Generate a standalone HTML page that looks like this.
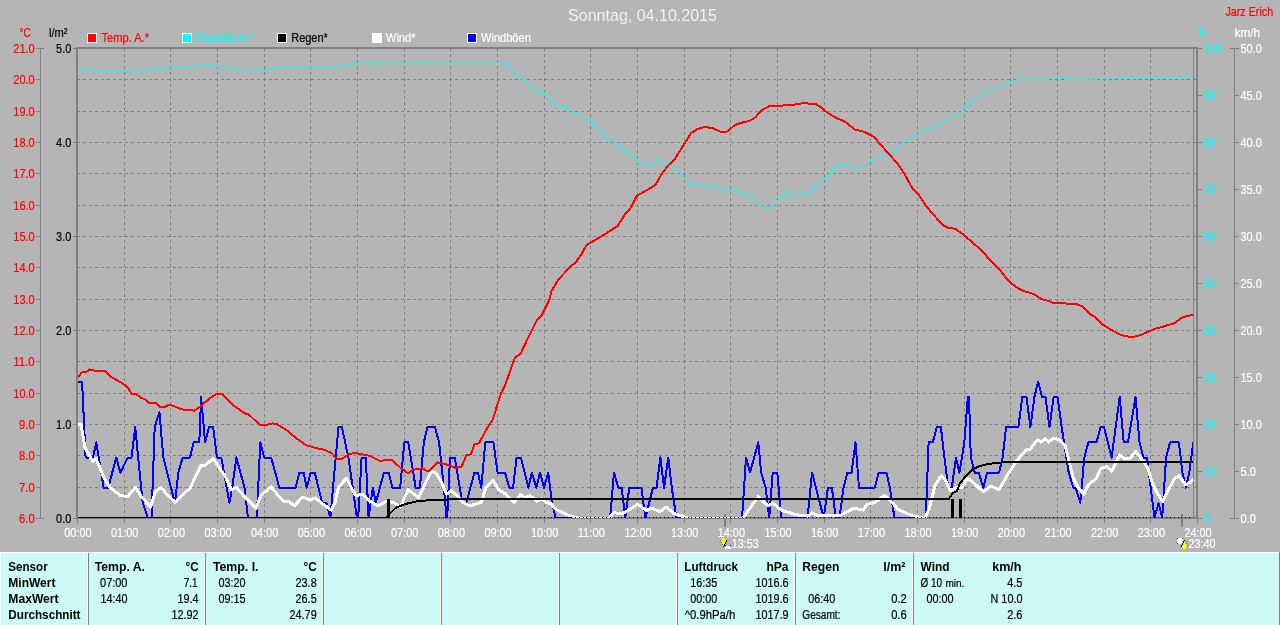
<!DOCTYPE html>
<html><head><meta charset="utf-8"><title>Wetter</title>
<style>html,body{margin:0;padding:0;background:#b5b5b5;overflow:hidden}svg{display:block;will-change:transform;font-family:"Liberation Sans",sans-serif}</style>
</head><body>
<svg width="1280" height="625" viewBox="0 0 1280 625">
<rect x="0" y="0" width="1280" height="625" fill="#b5b5b5"/>
<g shape-rendering="crispEdges" stroke="#808080" stroke-width="1" fill="none">
<line x1="77" y1="79.5" x2="1196" y2="79.5" stroke-dasharray="3 3"/>
<line x1="77" y1="111.5" x2="1196" y2="111.5" stroke-dasharray="3 3"/>
<line x1="77" y1="142.5" x2="1196" y2="142.5" stroke-dasharray="3 3"/>
<line x1="77" y1="173.5" x2="1196" y2="173.5" stroke-dasharray="3 3"/>
<line x1="77" y1="205.5" x2="1196" y2="205.5" stroke-dasharray="3 3"/>
<line x1="77" y1="236.5" x2="1196" y2="236.5" stroke-dasharray="3 3"/>
<line x1="77" y1="267.5" x2="1196" y2="267.5" stroke-dasharray="3 3"/>
<line x1="77" y1="299.5" x2="1196" y2="299.5" stroke-dasharray="3 3"/>
<line x1="77" y1="330.5" x2="1196" y2="330.5" stroke-dasharray="3 3"/>
<line x1="77" y1="361.5" x2="1196" y2="361.5" stroke-dasharray="3 3"/>
<line x1="77" y1="393.5" x2="1196" y2="393.5" stroke-dasharray="3 3"/>
<line x1="77" y1="424.5" x2="1196" y2="424.5" stroke-dasharray="3 3"/>
<line x1="77" y1="455.5" x2="1196" y2="455.5" stroke-dasharray="3 3"/>
<line x1="77" y1="487.5" x2="1196" y2="487.5" stroke-dasharray="3 3"/>
<line x1="124.5" y1="48" x2="124.5" y2="517" stroke-dasharray="3 3"/>
<line x1="124.5" y1="517" x2="124.5" y2="523"/>
<line x1="170.5" y1="48" x2="170.5" y2="517" stroke-dasharray="3 3"/>
<line x1="170.5" y1="517" x2="170.5" y2="523"/>
<line x1="217.5" y1="48" x2="217.5" y2="517" stroke-dasharray="3 3"/>
<line x1="217.5" y1="517" x2="217.5" y2="523"/>
<line x1="264.5" y1="48" x2="264.5" y2="517" stroke-dasharray="3 3"/>
<line x1="264.5" y1="517" x2="264.5" y2="523"/>
<line x1="310.5" y1="48" x2="310.5" y2="517" stroke-dasharray="3 3"/>
<line x1="310.5" y1="517" x2="310.5" y2="523"/>
<line x1="357.5" y1="48" x2="357.5" y2="517" stroke-dasharray="3 3"/>
<line x1="357.5" y1="517" x2="357.5" y2="523"/>
<line x1="404.5" y1="48" x2="404.5" y2="517" stroke-dasharray="3 3"/>
<line x1="404.5" y1="517" x2="404.5" y2="523"/>
<line x1="450.5" y1="48" x2="450.5" y2="517" stroke-dasharray="3 3"/>
<line x1="450.5" y1="517" x2="450.5" y2="523"/>
<line x1="497.5" y1="48" x2="497.5" y2="517" stroke-dasharray="3 3"/>
<line x1="497.5" y1="517" x2="497.5" y2="523"/>
<line x1="544.5" y1="48" x2="544.5" y2="517" stroke-dasharray="3 3"/>
<line x1="544.5" y1="517" x2="544.5" y2="523"/>
<line x1="590.5" y1="48" x2="590.5" y2="517" stroke-dasharray="3 3"/>
<line x1="590.5" y1="517" x2="590.5" y2="523"/>
<line x1="637.5" y1="48" x2="637.5" y2="517" stroke-dasharray="3 3"/>
<line x1="637.5" y1="517" x2="637.5" y2="523"/>
<line x1="684.5" y1="48" x2="684.5" y2="517" stroke-dasharray="3 3"/>
<line x1="684.5" y1="517" x2="684.5" y2="523"/>
<line x1="730.5" y1="48" x2="730.5" y2="517" stroke-dasharray="3 3"/>
<line x1="730.5" y1="517" x2="730.5" y2="523"/>
<line x1="777.5" y1="48" x2="777.5" y2="517" stroke-dasharray="3 3"/>
<line x1="777.5" y1="517" x2="777.5" y2="523"/>
<line x1="824.5" y1="48" x2="824.5" y2="517" stroke-dasharray="3 3"/>
<line x1="824.5" y1="517" x2="824.5" y2="523"/>
<line x1="870.5" y1="48" x2="870.5" y2="517" stroke-dasharray="3 3"/>
<line x1="870.5" y1="517" x2="870.5" y2="523"/>
<line x1="917.5" y1="48" x2="917.5" y2="517" stroke-dasharray="3 3"/>
<line x1="917.5" y1="517" x2="917.5" y2="523"/>
<line x1="964.5" y1="48" x2="964.5" y2="517" stroke-dasharray="3 3"/>
<line x1="964.5" y1="517" x2="964.5" y2="523"/>
<line x1="1010.5" y1="48" x2="1010.5" y2="517" stroke-dasharray="3 3"/>
<line x1="1010.5" y1="517" x2="1010.5" y2="523"/>
<line x1="1057.5" y1="48" x2="1057.5" y2="517" stroke-dasharray="3 3"/>
<line x1="1057.5" y1="517" x2="1057.5" y2="523"/>
<line x1="1104.5" y1="48" x2="1104.5" y2="517" stroke-dasharray="3 3"/>
<line x1="1104.5" y1="517" x2="1104.5" y2="523"/>
<line x1="1150.5" y1="48" x2="1150.5" y2="517" stroke-dasharray="3 3"/>
<line x1="1150.5" y1="517" x2="1150.5" y2="523"/>
</g>
<g shape-rendering="crispEdges">
<rect x="724" y="514" width="2" height="13" fill="#808080"/>
<rect x="1181" y="514" width="2" height="13" fill="#808080"/>
</g>
<rect x="76" y="517" width="1122" height="2" fill="#808080" shape-rendering="crispEdges"/>
<clipPath id="cp"><rect x="78" y="40" width="1118" height="478"/></clipPath>
<g shape-rendering="crispEdges" clip-path="url(#cp)">
<polyline points="76.8,381.8 82.1,381.8 85.6,457.5 93,457.5 96.3,442.4 103.7,487.7 108.3,487.7 116.2,457.5 120.4,472.6 127.8,457.5 131.5,457.5 135.2,427.2 142.7,502.9 147.8,518 151.5,518 154.7,427.2 159.4,412.1 163.3,457.5 174.9,502.9 178.4,472.6 182.6,457.5 190,457.5 193.7,442.4 199.3,442.4 201.1,397 205.1,442.4 209,427.2 213.2,427.2 216.9,457.5 221.3,457.5 229.4,502.9 232.2,487.7 236.4,457.5 244.5,487.7 248,518 256.8,518 260.3,442.4 264.2,457.5 271.2,457.5 279.3,487.7 295.5,487.7 299.5,472.6 303.7,472.6 306.7,487.7 310.6,472.6 314.8,472.6 322.2,502.9 326.4,502.9 330.3,518 338.5,427.2 341.9,427.2 348.4,457.5 357,518 358.2,518 361.6,457.5 365.8,457.5 368.6,518 372.8,487.7 375.8,502.9 383.9,472.6 388.6,472.6 392.5,487.7 400.2,487.7 404.3,442.4 408.3,442.4 415.7,487.7 419.9,487.7 423.8,442.4 427.5,427.2 435,427.2 439.1,442.4 445.4,502.9 446.1,518 447.2,518 450,457.5 454.7,457.5 462.3,502.9 466.3,502.9 474.4,472.6 477.9,472.6 481.3,487.7 485.3,442.4 493.4,442.4 497.6,472.6 505,472.6 509.2,487.7 513.1,487.7 516.6,457.5 520.8,457.5 528.4,487.7 531.9,472.6 536.3,487.7 540,472.6 544,487.7 548.2,472.6 552.1,502.9 555.6,518 610.1,518 614,472.6 618.2,487.7 621.7,487.7 625.2,518 629.3,487.7 641.4,487.7 645.4,518 653,487.7 656.5,487.7 660.4,457.5 664.1,487.7 668.3,457.5 671.8,487.7 676.4,518 742.1,518 746,457.5 750,472.6 758.3,442.4 761.1,472.6 765.7,487.7 769.2,518 772.7,472.6 777.3,472.6 781.3,518 807.5,518 812.1,472.6 823.7,518 827.9,487.7 831.9,487.7 835.8,518 839.5,518 843.5,487.7 847.4,472.6 851.6,472.6 855.5,442.4 859,487.7 874.8,487.7 878.7,472.6 886.4,472.6 889.9,487.7 894.5,518 925.8,518 928.6,442.4 932.8,442.4 936.7,427.2 940.9,427.2 944.4,457.5 948.3,487.7 951.8,487.7 956,457.5 959.4,472.6 962,457.5 964.3,442.4 967.8,397 969,397 970.8,457.5 974.8,472.6 978.7,472.6 983.3,487.7 987.1,472.6 999.1,472.6 1002.6,457.5 1006.1,427.2 1018.4,427.2 1022.3,397 1026.5,397 1030.4,427.2 1034.4,397 1038.1,381.8 1042,397 1045.5,397 1049.5,427.2 1053.6,397 1057.6,397 1061.7,427.2 1068.7,472.6 1073.3,487.7 1075.7,487.7 1080.3,502.9 1084.3,457.5 1088.4,442.4 1096.5,442.4 1100.5,427.2 1104,427.2 1111.6,457.5 1119.7,397 1123.7,442.4 1127.9,442.4 1135.5,397 1139.5,442.4 1143.4,457.5 1146.9,457.5 1154.5,518 1158.5,502.9 1162.2,518 1166.1,457.5 1170.1,442.4 1178.9,442.4 1182.4,472.6 1185.9,487.7 1189.3,472.6 1193.3,442.4" fill="none" stroke="#0000ff" stroke-width="2" stroke-linejoin="round"/>
<polyline points="76.8,424.3 81,424.3 85.1,447.9 93,461.8 96,458.4 104.2,478.1 110,487.3 120.4,495.5 127.8,496.6 135.5,487.3 141.3,496.6 150.6,507.1 155.2,492 161,487.3 166.8,494.3 175.4,502.4 183,494.3 190,488.5 196.9,473.4 201.1,465.3 205.1,465.3 213.2,458.4 217.8,465.3 224.8,475.7 231.7,489.7 236.4,487.3 244.5,496.6 256.1,508.2 260.7,495.5 271.2,486.9 278.1,495.5 283.9,501.3 288.6,501.3 294.4,505.9 302.5,497.1 310.6,500.1 315.3,497.8 322.2,503.6 331.5,510.1 335,502.4 338.5,487.3 346.6,478.1 352.4,489.7 355.8,495.5 362.8,494.3 370,501.3 378.1,505.9 386.2,501.3 393.2,502.4 400.2,507.1 408.3,489.7 418.7,497.8 424.5,485 431.5,471.1 436.1,473.4 441.9,482.7 446.6,494.3 451.2,490.8 457,495.5 462.8,502.4 469.7,505.9 481.3,502.4 486,487.3 492.9,480.4 498.7,489.7 505.7,494.3 513.8,502.4 520.8,494.3 524.3,497.8 530.1,495.5 537,501.3 541.7,498.9 546.3,502.4 550.9,503.6 555.6,509.4 567.2,514.7 578.8,518.5 608.9,518.5 613.6,512.9 622.9,513.3 629.8,509.4 637.9,504.3 646.1,510.5 651.8,508.2 660,511.7 666,507.1 675.3,514 689.2,518.5 742.6,518.5 758.3,496.6 768.1,505.9 772.7,503.1 782,510.5 795.9,514.7 807.5,516.1 812.1,512.9 816.8,515.2 840,515.6 853.9,508.2 863.2,510.1 866.7,504.7 874.8,502.4 884.1,495.5 888.7,498.9 898,509.4 909.6,514.7 924.7,518.5 929.3,508.2 935.1,485 941.6,475.7 945.5,480.4 950.2,490.8 957.1,487.3 962,487.3 967.8,478.1 975.9,485 983.3,492 991,486.2 999.1,489.7 1008.4,473.4 1017.7,459.5 1025.8,450.2 1030.4,449.1 1037.4,439.8 1040.9,442.1 1045,438.6 1048.3,442.1 1053.6,438.2 1059.4,439.8 1065.2,445.6 1068.7,459.5 1073.3,478.1 1078,487.3 1083.8,494.3 1088.4,485 1096.5,478.1 1100.5,468.8 1107,466.5 1111.6,471.1 1119.7,454.9 1124.4,459 1130.2,458.4 1135.5,451.4 1141.8,459 1147.6,467.6 1152.2,482.7 1158,494.3 1162.7,501.3 1168.5,489.7 1174.3,479.2 1178.9,475.7 1182.4,480.4 1185.9,485 1194,479.2" fill="none" stroke="#ffffff" stroke-width="3" stroke-linejoin="round"/>
<polyline points="78,518 386,518 386.2,517.7 389.7,513.8 395.5,508 404.8,504.1 416.4,501.5 428,500.3 446,500 448,499 949,499 952.3,493.5 957.1,490.8 959.9,483.1 966,476 971.7,470 978.7,466.4 985,464.6 992.6,463.4 1001,462.6 1010,462 1015.4,462.1 1194,462.1" fill="none" stroke="#000000" stroke-width="2" stroke-linejoin="round"/>
</g>
<g shape-rendering="crispEdges" clip-path="url(#cp)">
<rect x="387" y="499" width="3" height="19" fill="#000"/>
<rect x="951" y="499" width="3" height="19" fill="#000"/>
<rect x="959" y="499" width="3" height="19" fill="#000"/>
<path d="M392 517h1v1h-1zM396 517h1v1h-1zM400 517h1v1h-1zM404 517h1v1h-1zM408 517h1v1h-1zM411 517h1v1h-1zM415 517h1v1h-1zM419 517h1v1h-1zM423 517h1v1h-1zM427 517h1v1h-1zM431 517h1v1h-1zM435 517h1v1h-1zM439 517h1v1h-1zM443 517h1v1h-1zM446 517h1v1h-1zM450 517h1v1h-1zM454 517h1v1h-1zM458 517h1v1h-1zM462 517h1v1h-1zM466 517h1v1h-1zM470 517h1v1h-1zM474 517h1v1h-1zM478 517h1v1h-1zM481 517h1v1h-1zM485 517h1v1h-1zM489 517h1v1h-1zM493 517h1v1h-1zM497 517h1v1h-1zM501 517h1v1h-1zM505 517h1v1h-1zM509 517h1v1h-1zM513 517h1v1h-1zM516 517h1v1h-1zM520 517h1v1h-1zM524 517h1v1h-1zM528 517h1v1h-1zM532 517h1v1h-1zM536 517h1v1h-1zM540 517h1v1h-1zM544 517h1v1h-1zM548 517h1v1h-1zM551 517h1v1h-1zM555 517h1v1h-1zM559 517h1v1h-1zM563 517h1v1h-1zM567 517h1v1h-1zM571 517h1v1h-1zM575 517h1v1h-1zM579 517h1v1h-1zM583 517h1v1h-1zM586 517h1v1h-1zM590 517h1v1h-1zM594 517h1v1h-1zM598 517h1v1h-1zM602 517h1v1h-1zM606 517h1v1h-1zM610 517h1v1h-1zM614 517h1v1h-1zM618 517h1v1h-1zM621 517h1v1h-1zM625 517h1v1h-1zM629 517h1v1h-1zM633 517h1v1h-1zM637 517h1v1h-1zM641 517h1v1h-1zM645 517h1v1h-1zM649 517h1v1h-1zM653 517h1v1h-1zM656 517h1v1h-1zM660 517h1v1h-1zM664 517h1v1h-1zM668 517h1v1h-1zM672 517h1v1h-1zM676 517h1v1h-1zM680 517h1v1h-1zM684 517h1v1h-1zM688 517h1v1h-1zM691 517h1v1h-1zM695 517h1v1h-1zM699 517h1v1h-1zM703 517h1v1h-1zM707 517h1v1h-1zM711 517h1v1h-1zM715 517h1v1h-1zM719 517h1v1h-1zM723 517h1v1h-1zM726 517h1v1h-1zM730 517h1v1h-1zM734 517h1v1h-1zM738 517h1v1h-1zM742 517h1v1h-1zM746 517h1v1h-1zM750 517h1v1h-1zM754 517h1v1h-1zM758 517h1v1h-1zM761 517h1v1h-1zM765 517h1v1h-1zM769 517h1v1h-1zM773 517h1v1h-1zM777 517h1v1h-1zM781 517h1v1h-1zM785 517h1v1h-1zM789 517h1v1h-1zM793 517h1v1h-1zM796 517h1v1h-1zM800 517h1v1h-1zM804 517h1v1h-1zM808 517h1v1h-1zM812 517h1v1h-1zM816 517h1v1h-1zM820 517h1v1h-1zM824 517h1v1h-1zM828 517h1v1h-1zM831 517h1v1h-1zM835 517h1v1h-1zM839 517h1v1h-1zM843 517h1v1h-1zM847 517h1v1h-1zM851 517h1v1h-1zM855 517h1v1h-1zM859 517h1v1h-1zM863 517h1v1h-1zM866 517h1v1h-1zM870 517h1v1h-1zM874 517h1v1h-1zM878 517h1v1h-1zM882 517h1v1h-1zM886 517h1v1h-1zM890 517h1v1h-1zM894 517h1v1h-1zM898 517h1v1h-1zM901 517h1v1h-1zM905 517h1v1h-1zM909 517h1v1h-1zM913 517h1v1h-1zM917 517h1v1h-1zM921 517h1v1h-1zM925 517h1v1h-1zM929 517h1v1h-1zM933 517h1v1h-1zM936 517h1v1h-1zM940 517h1v1h-1zM944 517h1v1h-1zM948 517h1v1h-1zM952 517h1v1h-1zM956 517h1v1h-1zM960 517h1v1h-1zM964 517h1v1h-1zM968 517h1v1h-1zM971 517h1v1h-1zM975 517h1v1h-1zM979 517h1v1h-1zM983 517h1v1h-1zM987 517h1v1h-1zM991 517h1v1h-1zM995 517h1v1h-1zM999 517h1v1h-1zM1003 517h1v1h-1zM1006 517h1v1h-1zM1010 517h1v1h-1zM1014 517h1v1h-1zM1018 517h1v1h-1zM1022 517h1v1h-1zM1026 517h1v1h-1zM1030 517h1v1h-1zM1034 517h1v1h-1zM1038 517h1v1h-1zM1041 517h1v1h-1zM1045 517h1v1h-1zM1049 517h1v1h-1zM1053 517h1v1h-1zM1057 517h1v1h-1zM1061 517h1v1h-1zM1065 517h1v1h-1zM1069 517h1v1h-1zM1073 517h1v1h-1zM1076 517h1v1h-1zM1080 517h1v1h-1zM1084 517h1v1h-1zM1088 517h1v1h-1zM1092 517h1v1h-1zM1096 517h1v1h-1zM1100 517h1v1h-1zM1104 517h1v1h-1zM1108 517h1v1h-1zM1111 517h1v1h-1zM1115 517h1v1h-1zM1119 517h1v1h-1zM1123 517h1v1h-1zM1127 517h1v1h-1zM1131 517h1v1h-1zM1135 517h1v1h-1zM1139 517h1v1h-1zM1143 517h1v1h-1zM1146 517h1v1h-1zM1150 517h1v1h-1zM1154 517h1v1h-1zM1158 517h1v1h-1zM1162 517h1v1h-1zM1166 517h1v1h-1zM1170 517h1v1h-1zM1174 517h1v1h-1zM1178 517h1v1h-1zM1181 517h1v1h-1zM1185 517h1v1h-1zM1189 517h1v1h-1zM1193 517h1v1h-1z" fill="#000"/>
<polyline points="77.8,72.2 81.8,69.7 88.1,68.8 94.3,71.2 99,71.2 124,71.2 131.8,72.8 134.9,70.6 139.6,71.9 144.3,70.3 149,70.3 155.2,68.8 167.8,68.1 170.9,67.2 194.3,67.2 199,65 203.7,66.2 208.4,65 213.1,66.2 220.9,66.2 230.2,69.7 236.5,68.8 241.2,70.3 252.1,70.6 256.8,69.1 261.5,70 270.9,68.8 280.2,67.5 338.1,67.5 342.8,65.6 349,65 355.2,63.8 367.8,63.4 374,62.5 381.8,64.1 386.5,63.1 399,62.5 403.7,63.8 417.8,63.1 424,62.2 470.9,62.2 474,62.2 502.1,62.2 508.4,65.6 516.2,75.9 525.6,81.2 531.8,88.4 536.5,89.4 540.2,95.6 544.3,92.5 552.1,102.5 559.9,106.2 564.6,106.2 570.9,111.9 577.1,113.4 586.5,120.6 590.2,120.6 602.1,132.2 606.8,139.4 611.5,140 619.3,145.6 620.9,149.4 625.6,148.8 629.3,156.2 633.4,155.6 638.1,163.4 642.8,163.4 652.8,166.6 656.8,158.8 664.6,166.6 668.4,161.9 672.4,167.5 677.1,168.8 684,177.5 686.5,179.1 691.2,185.6 697.4,183.1 706.8,186.9 713.1,185.6 724,189.4 730.2,191.2 733.4,190 742.8,193.1 749.6,197.2 753.7,195.3 758.4,202.5 766.2,208.8 774,205.6 781.8,195.3 788.1,190 792.8,196.2 800.6,194.7 808.4,193.1 817.8,185.3 828.7,175 839.6,163.8 845.9,165.6 850.6,165 858.4,168.8 867.8,163.4 872.4,159.4 874,159.4 880.2,156.2 888.1,154.7 892.8,150.9 897.4,149.4 902.1,143.8 911.5,136.9 920.9,131.6 933.4,127.5 939.6,122.8 945.9,119.7 952.1,117.5 958.4,114.4 964.6,108.1 970.9,101.6 975.6,98.4 980.2,94.7 986.5,92.5 992.8,88.4 999,86.2 1005.2,84.7 1011.5,80.6 1017.8,79.7 1027.1,79.1 1039.6,80 1049,78.8 1058.4,77.8 1067.8,79.4 1092.8,79.1 1099,78.1 1114.6,78.1 1139.6,76.9 1174,76.9 1177.8,75.9 1181.8,76.9 1192.8,76.9" fill="none" stroke="#00ffff" stroke-width="1" stroke-linejoin="round"/>
<polyline points="77.8,377.2 81.8,372.5 86.5,371.9 89.6,369.4 95.9,370.9 104.6,370.9 111.5,377.2 120.9,382.5 127.1,386.6 131.8,393.8 136.5,394.4 141.2,398.1 144.3,398.8 149,402.8 155.9,403.1 159.9,406.9 164.6,406.9 169.3,404.7 174,406.2 181.8,409.4 188.1,410 194.3,410.6 199,407.5 205.2,402.2 213.1,395.9 217.8,393.8 222.4,394.4 233.4,405.3 244.3,413.1 249,414.7 259.9,425 266.2,425 272.4,423.4 277.1,424.4 286.5,430 296.7,438.6 306,445.1 315.3,447.9 324.5,449.8 331.5,453 337.3,459 340.8,459.5 348.9,454.4 353.5,453 361.6,454.2 370,456 379.3,460.7 392,460 400.2,467.6 408.3,473.4 412.9,469.9 422.2,468.3 428,471.6 437.3,462.3 444.2,463.7 454.7,467.6 461.6,466.9 466.3,455.3 470.9,454.4 474.4,444.4 479,443.3 486.5,429.4 492.8,419.4 500.6,394.4 505.2,385 514.6,358.4 520.9,353.1 528.7,336.6 536.5,320.9 541.2,316.2 549,300.6 551.5,291.2 558.4,279.4 570.9,266.2 575.6,262.5 581.8,253.8 586.5,245 594.3,240.6 602.1,235.9 611.5,230 617.8,225.9 625.6,213.4 630.2,208.8 637.1,195.6 644.3,191.6 655.2,185.3 661.5,174.4 668.4,165 674,160.3 681.8,147.8 691.2,133.1 697.4,129.1 705.2,126.9 713.1,128.4 720.9,131.9 727.1,131.6 734.9,125 744.3,121.9 749,121.2 755.2,117.5 761.5,110.3 769.3,106.2 781.8,105.6 794.3,104.7 803.7,103.1 816.2,104.4 820.9,107.2 827.1,112.5 836.5,118.1 844.3,121.2 855.2,129.7 864.6,131.9 874,136.9 883.4,147.8 897.4,163.4 903.7,172.8 913.1,189.4 919.3,195.6 927.1,207.2 936.5,218.1 944.3,225.9 949,228.1 955.2,228.8 963.1,234.4 974,243.8 983.4,252.2 991.2,261.6 1000.6,270.9 1006.8,278.8 1011.5,283.4 1017.8,288.1 1024,291.2 1033.4,293.8 1041.2,299.1 1047.4,300.6 1053.7,303.1 1075.6,303.8 1083.4,306.9 1089.6,313.8 1095.9,317.8 1102.1,324.1 1108.4,328.1 1114.6,331.9 1120.9,335 1128.7,336.6 1134.9,336.6 1141.2,335 1149,331.2 1155.2,328.8 1161.5,327.2 1167.8,325 1174,323.4 1181.8,317.8 1188.1,315.6 1192.8,315.3" fill="none" stroke="#ff0000" stroke-width="2" stroke-linejoin="round"/>
</g>
<g shape-rendering="crispEdges" fill="#808080">
<rect x="76" y="47" width="1122" height="2" fill="#808080"/>
<rect x="76" y="47" width="2" height="472" fill="#808080"/>
<rect x="77" y="519" width="1" height="4" fill="#808080"/>
<rect x="1196" y="47" width="2" height="472" fill="#808080"/>
<rect x="1197" y="519" width="1" height="4" fill="#808080"/>
<rect x="1193" y="49" width="1" height="469" fill="#808080"/>
</g>
<g shape-rendering="crispEdges">
<rect x="40" y="48" width="1" height="471" fill="#808080"/>
<rect x="36" y="48" width="8" height="1" fill="#808080"/>
<rect x="36" y="79" width="4" height="1" fill="#808080"/>
<rect x="36" y="111" width="4" height="1" fill="#808080"/>
<rect x="36" y="142" width="4" height="1" fill="#808080"/>
<rect x="36" y="173" width="4" height="1" fill="#808080"/>
<rect x="36" y="205" width="4" height="1" fill="#808080"/>
<rect x="36" y="236" width="4" height="1" fill="#808080"/>
<rect x="36" y="267" width="4" height="1" fill="#808080"/>
<rect x="36" y="299" width="4" height="1" fill="#808080"/>
<rect x="36" y="330" width="4" height="1" fill="#808080"/>
<rect x="36" y="361" width="4" height="1" fill="#808080"/>
<rect x="36" y="393" width="4" height="1" fill="#808080"/>
<rect x="36" y="424" width="4" height="1" fill="#808080"/>
<rect x="36" y="455" width="4" height="1" fill="#808080"/>
<rect x="36" y="487" width="4" height="1" fill="#808080"/>
<rect x="36" y="518" width="8" height="1" fill="#808080"/>
<rect x="73" y="48" width="3" height="1" fill="#808080"/>
<rect x="73" y="142" width="3" height="1" fill="#808080"/>
<rect x="73" y="236" width="3" height="1" fill="#808080"/>
<rect x="73" y="330" width="3" height="1" fill="#808080"/>
<rect x="73" y="424" width="3" height="1" fill="#808080"/>
<rect x="73" y="518" width="3" height="1" fill="#808080"/>
<rect x="1198" y="48" width="4" height="1" fill="#808080"/>
<rect x="1198" y="95" width="4" height="1" fill="#808080"/>
<rect x="1198" y="142" width="4" height="1" fill="#808080"/>
<rect x="1198" y="189" width="4" height="1" fill="#808080"/>
<rect x="1198" y="236" width="4" height="1" fill="#808080"/>
<rect x="1198" y="283" width="4" height="1" fill="#808080"/>
<rect x="1198" y="330" width="4" height="1" fill="#808080"/>
<rect x="1198" y="377" width="4" height="1" fill="#808080"/>
<rect x="1198" y="424" width="4" height="1" fill="#808080"/>
<rect x="1198" y="471" width="4" height="1" fill="#808080"/>
<rect x="1198" y="518" width="4" height="1" fill="#808080"/>
<rect x="1234" y="48" width="1" height="471" fill="#808080"/>
<rect x="1230" y="48" width="9" height="1" fill="#808080"/>
<rect x="1235" y="95" width="4" height="1" fill="#808080"/>
<rect x="1235" y="142" width="4" height="1" fill="#808080"/>
<rect x="1235" y="189" width="4" height="1" fill="#808080"/>
<rect x="1235" y="236" width="4" height="1" fill="#808080"/>
<rect x="1235" y="283" width="4" height="1" fill="#808080"/>
<rect x="1235" y="330" width="4" height="1" fill="#808080"/>
<rect x="1235" y="377" width="4" height="1" fill="#808080"/>
<rect x="1235" y="424" width="4" height="1" fill="#808080"/>
<rect x="1235" y="471" width="4" height="1" fill="#808080"/>
<rect x="1230" y="518" width="9" height="1" fill="#808080"/>
</g>
<g>
<text x="13.3" y="53" font-size="12.5" fill="#ff0000" stroke="#ff0000" stroke-width="0.2" textLength="21.4" lengthAdjust="spacingAndGlyphs">21.0</text>
<text x="13.3" y="84" font-size="12.5" fill="#ff0000" stroke="#ff0000" stroke-width="0.2" textLength="21.4" lengthAdjust="spacingAndGlyphs">20.0</text>
<text x="13.3" y="116" font-size="12.5" fill="#ff0000" stroke="#ff0000" stroke-width="0.2" textLength="21.4" lengthAdjust="spacingAndGlyphs">19.0</text>
<text x="13.3" y="147" font-size="12.5" fill="#ff0000" stroke="#ff0000" stroke-width="0.2" textLength="21.4" lengthAdjust="spacingAndGlyphs">18.0</text>
<text x="13.3" y="178" font-size="12.5" fill="#ff0000" stroke="#ff0000" stroke-width="0.2" textLength="21.4" lengthAdjust="spacingAndGlyphs">17.0</text>
<text x="13.3" y="210" font-size="12.5" fill="#ff0000" stroke="#ff0000" stroke-width="0.2" textLength="21.4" lengthAdjust="spacingAndGlyphs">16.0</text>
<text x="13.3" y="241" font-size="12.5" fill="#ff0000" stroke="#ff0000" stroke-width="0.2" textLength="21.4" lengthAdjust="spacingAndGlyphs">15.0</text>
<text x="13.3" y="272" font-size="12.5" fill="#ff0000" stroke="#ff0000" stroke-width="0.2" textLength="21.4" lengthAdjust="spacingAndGlyphs">14.0</text>
<text x="13.3" y="304" font-size="12.5" fill="#ff0000" stroke="#ff0000" stroke-width="0.2" textLength="21.4" lengthAdjust="spacingAndGlyphs">13.0</text>
<text x="13.3" y="335" font-size="12.5" fill="#ff0000" stroke="#ff0000" stroke-width="0.2" textLength="21.4" lengthAdjust="spacingAndGlyphs">12.0</text>
<text x="13.3" y="366" font-size="12.5" fill="#ff0000" stroke="#ff0000" stroke-width="0.2" textLength="21.4" lengthAdjust="spacingAndGlyphs">11.0</text>
<text x="13.3" y="398" font-size="12.5" fill="#ff0000" stroke="#ff0000" stroke-width="0.2" textLength="21.4" lengthAdjust="spacingAndGlyphs">10.0</text>
<text x="19.1" y="429" font-size="12.5" fill="#ff0000" stroke="#ff0000" stroke-width="0.2" textLength="15.6" lengthAdjust="spacingAndGlyphs">9.0</text>
<text x="19.1" y="460" font-size="12.5" fill="#ff0000" stroke="#ff0000" stroke-width="0.2" textLength="15.6" lengthAdjust="spacingAndGlyphs">8.0</text>
<text x="19.1" y="492" font-size="12.5" fill="#ff0000" stroke="#ff0000" stroke-width="0.2" textLength="15.6" lengthAdjust="spacingAndGlyphs">7.0</text>
<text x="19.1" y="523" font-size="12.5" fill="#ff0000" stroke="#ff0000" stroke-width="0.2" textLength="15.6" lengthAdjust="spacingAndGlyphs">6.0</text>
<text x="56.1" y="53" font-size="12.5" fill="#000000" stroke="#000000" stroke-width="0.2" textLength="15.2" lengthAdjust="spacingAndGlyphs">5.0</text>
<text x="56.1" y="147" font-size="12.5" fill="#000000" stroke="#000000" stroke-width="0.2" textLength="15.2" lengthAdjust="spacingAndGlyphs">4.0</text>
<text x="56.1" y="241" font-size="12.5" fill="#000000" stroke="#000000" stroke-width="0.2" textLength="15.2" lengthAdjust="spacingAndGlyphs">3.0</text>
<text x="56.1" y="335" font-size="12.5" fill="#000000" stroke="#000000" stroke-width="0.2" textLength="15.2" lengthAdjust="spacingAndGlyphs">2.0</text>
<text x="56.1" y="429" font-size="12.5" fill="#000000" stroke="#000000" stroke-width="0.2" textLength="15.2" lengthAdjust="spacingAndGlyphs">1.0</text>
<text x="56.1" y="523" font-size="12.5" fill="#000000" stroke="#000000" stroke-width="0.2" textLength="15.2" lengthAdjust="spacingAndGlyphs">0.0</text>
<text x="1203.7" y="53" font-size="12.5" fill="#00ffff" stroke="#00ffff" stroke-width="0.2" textLength="18" lengthAdjust="spacingAndGlyphs">100</text>
<text x="1203.7" y="100" font-size="12.5" fill="#00ffff" stroke="#00ffff" stroke-width="0.2" textLength="12" lengthAdjust="spacingAndGlyphs">90</text>
<text x="1203.7" y="147" font-size="12.5" fill="#00ffff" stroke="#00ffff" stroke-width="0.2" textLength="12" lengthAdjust="spacingAndGlyphs">80</text>
<text x="1203.7" y="194" font-size="12.5" fill="#00ffff" stroke="#00ffff" stroke-width="0.2" textLength="12" lengthAdjust="spacingAndGlyphs">70</text>
<text x="1203.7" y="241" font-size="12.5" fill="#00ffff" stroke="#00ffff" stroke-width="0.2" textLength="12" lengthAdjust="spacingAndGlyphs">60</text>
<text x="1203.7" y="288" font-size="12.5" fill="#00ffff" stroke="#00ffff" stroke-width="0.2" textLength="12" lengthAdjust="spacingAndGlyphs">50</text>
<text x="1203.7" y="335" font-size="12.5" fill="#00ffff" stroke="#00ffff" stroke-width="0.2" textLength="12" lengthAdjust="spacingAndGlyphs">40</text>
<text x="1203.7" y="382" font-size="12.5" fill="#00ffff" stroke="#00ffff" stroke-width="0.2" textLength="12" lengthAdjust="spacingAndGlyphs">30</text>
<text x="1203.7" y="429" font-size="12.5" fill="#00ffff" stroke="#00ffff" stroke-width="0.2" textLength="12" lengthAdjust="spacingAndGlyphs">20</text>
<text x="1203.7" y="476" font-size="12.5" fill="#00ffff" stroke="#00ffff" stroke-width="0.2" textLength="12" lengthAdjust="spacingAndGlyphs">10</text>
<text x="1203.7" y="523" font-size="12.5" fill="#00ffff" stroke="#00ffff" stroke-width="0.2" textLength="6" lengthAdjust="spacingAndGlyphs">0</text>
<text x="1240.5" y="53" font-size="12.5" fill="#ffffff" stroke="#ffffff" stroke-width="0.2" textLength="21.2" lengthAdjust="spacingAndGlyphs">50.0</text>
<text x="1240.5" y="100" font-size="12.5" fill="#ffffff" stroke="#ffffff" stroke-width="0.2" textLength="21.2" lengthAdjust="spacingAndGlyphs">45.0</text>
<text x="1240.5" y="147" font-size="12.5" fill="#ffffff" stroke="#ffffff" stroke-width="0.2" textLength="21.2" lengthAdjust="spacingAndGlyphs">40.0</text>
<text x="1240.5" y="194" font-size="12.5" fill="#ffffff" stroke="#ffffff" stroke-width="0.2" textLength="21.2" lengthAdjust="spacingAndGlyphs">35.0</text>
<text x="1240.5" y="241" font-size="12.5" fill="#ffffff" stroke="#ffffff" stroke-width="0.2" textLength="21.2" lengthAdjust="spacingAndGlyphs">30.0</text>
<text x="1240.5" y="288" font-size="12.5" fill="#ffffff" stroke="#ffffff" stroke-width="0.2" textLength="21.2" lengthAdjust="spacingAndGlyphs">25.0</text>
<text x="1240.5" y="335" font-size="12.5" fill="#ffffff" stroke="#ffffff" stroke-width="0.2" textLength="21.2" lengthAdjust="spacingAndGlyphs">20.0</text>
<text x="1240.5" y="382" font-size="12.5" fill="#ffffff" stroke="#ffffff" stroke-width="0.2" textLength="21.2" lengthAdjust="spacingAndGlyphs">15.0</text>
<text x="1240.5" y="429" font-size="12.5" fill="#ffffff" stroke="#ffffff" stroke-width="0.2" textLength="21.2" lengthAdjust="spacingAndGlyphs">10.0</text>
<text x="1240.5" y="476" font-size="12.5" fill="#ffffff" stroke="#ffffff" stroke-width="0.2" textLength="15.4" lengthAdjust="spacingAndGlyphs">5.0</text>
<text x="1240.5" y="523" font-size="12.5" fill="#ffffff" stroke="#ffffff" stroke-width="0.2" textLength="15.4" lengthAdjust="spacingAndGlyphs">0.0</text>
<text x="19.5" y="37" font-size="12.5" fill="#ff0000" stroke="#ff0000" stroke-width="0.2" textLength="11.3" lengthAdjust="spacingAndGlyphs">°C</text>
<text x="49" y="37" font-size="12.5" fill="#000000" stroke="#000000" stroke-width="0.2" textLength="18.5" lengthAdjust="spacingAndGlyphs">l/m²</text>
<text x="1197.7" y="37" font-size="12.5" fill="#00ffff" stroke="#00ffff" stroke-width="0.2" textLength="8" lengthAdjust="spacingAndGlyphs">%</text>
<text x="1234.5" y="37" font-size="12.5" fill="#ffffff" stroke="#ffffff" stroke-width="0.2" textLength="25.5" lengthAdjust="spacingAndGlyphs">km/h</text>
<text x="1225.5" y="16" font-size="12.5" fill="#ff0000" stroke="#ff0000" stroke-width="0.2" textLength="47.6" lengthAdjust="spacingAndGlyphs">Jarz Erich</text>
<text x="568.1" y="21" font-size="17" fill="#f2f2f2" textLength="148.8" lengthAdjust="spacingAndGlyphs">Sonntag, 04.10.2015</text>
<text x="64.3" y="537" font-size="12.5" fill="#ffffff" stroke="#ffffff" stroke-width="0.2" textLength="27.3" lengthAdjust="spacingAndGlyphs">00:00</text>
<text x="111" y="537" font-size="12.5" fill="#ffffff" stroke="#ffffff" stroke-width="0.2" textLength="27.3" lengthAdjust="spacingAndGlyphs">01:00</text>
<text x="157.7" y="537" font-size="12.5" fill="#ffffff" stroke="#ffffff" stroke-width="0.2" textLength="27.3" lengthAdjust="spacingAndGlyphs">02:00</text>
<text x="204.4" y="537" font-size="12.5" fill="#ffffff" stroke="#ffffff" stroke-width="0.2" textLength="27.3" lengthAdjust="spacingAndGlyphs">03:00</text>
<text x="251" y="537" font-size="12.5" fill="#ffffff" stroke="#ffffff" stroke-width="0.2" textLength="27.3" lengthAdjust="spacingAndGlyphs">04:00</text>
<text x="297.7" y="537" font-size="12.5" fill="#ffffff" stroke="#ffffff" stroke-width="0.2" textLength="27.3" lengthAdjust="spacingAndGlyphs">05:00</text>
<text x="344.4" y="537" font-size="12.5" fill="#ffffff" stroke="#ffffff" stroke-width="0.2" textLength="27.3" lengthAdjust="spacingAndGlyphs">06:00</text>
<text x="391" y="537" font-size="12.5" fill="#ffffff" stroke="#ffffff" stroke-width="0.2" textLength="27.3" lengthAdjust="spacingAndGlyphs">07:00</text>
<text x="437.7" y="537" font-size="12.5" fill="#ffffff" stroke="#ffffff" stroke-width="0.2" textLength="27.3" lengthAdjust="spacingAndGlyphs">08:00</text>
<text x="484.4" y="537" font-size="12.5" fill="#ffffff" stroke="#ffffff" stroke-width="0.2" textLength="27.3" lengthAdjust="spacingAndGlyphs">09:00</text>
<text x="531" y="537" font-size="12.5" fill="#ffffff" stroke="#ffffff" stroke-width="0.2" textLength="27.3" lengthAdjust="spacingAndGlyphs">10:00</text>
<text x="577.7" y="537" font-size="12.5" fill="#ffffff" stroke="#ffffff" stroke-width="0.2" textLength="27.3" lengthAdjust="spacingAndGlyphs">11:00</text>
<text x="624.4" y="537" font-size="12.5" fill="#ffffff" stroke="#ffffff" stroke-width="0.2" textLength="27.3" lengthAdjust="spacingAndGlyphs">12:00</text>
<text x="671" y="537" font-size="12.5" fill="#ffffff" stroke="#ffffff" stroke-width="0.2" textLength="27.3" lengthAdjust="spacingAndGlyphs">13:00</text>
<text x="717.7" y="537" font-size="12.5" fill="#ffffff" stroke="#ffffff" stroke-width="0.2" textLength="27.3" lengthAdjust="spacingAndGlyphs">14:00</text>
<text x="764.4" y="537" font-size="12.5" fill="#ffffff" stroke="#ffffff" stroke-width="0.2" textLength="27.3" lengthAdjust="spacingAndGlyphs">15:00</text>
<text x="811" y="537" font-size="12.5" fill="#ffffff" stroke="#ffffff" stroke-width="0.2" textLength="27.3" lengthAdjust="spacingAndGlyphs">16:00</text>
<text x="857.7" y="537" font-size="12.5" fill="#ffffff" stroke="#ffffff" stroke-width="0.2" textLength="27.3" lengthAdjust="spacingAndGlyphs">17:00</text>
<text x="904.4" y="537" font-size="12.5" fill="#ffffff" stroke="#ffffff" stroke-width="0.2" textLength="27.3" lengthAdjust="spacingAndGlyphs">18:00</text>
<text x="951" y="537" font-size="12.5" fill="#ffffff" stroke="#ffffff" stroke-width="0.2" textLength="27.3" lengthAdjust="spacingAndGlyphs">19:00</text>
<text x="997.7" y="537" font-size="12.5" fill="#ffffff" stroke="#ffffff" stroke-width="0.2" textLength="27.3" lengthAdjust="spacingAndGlyphs">20:00</text>
<text x="1044.4" y="537" font-size="12.5" fill="#ffffff" stroke="#ffffff" stroke-width="0.2" textLength="27.3" lengthAdjust="spacingAndGlyphs">21:00</text>
<text x="1091" y="537" font-size="12.5" fill="#ffffff" stroke="#ffffff" stroke-width="0.2" textLength="27.3" lengthAdjust="spacingAndGlyphs">22:00</text>
<text x="1137.7" y="537" font-size="12.5" fill="#ffffff" stroke="#ffffff" stroke-width="0.2" textLength="27.3" lengthAdjust="spacingAndGlyphs">23:00</text>
<text x="1184.4" y="537" font-size="12.5" fill="#ffffff" stroke="#ffffff" stroke-width="0.2" textLength="27.3" lengthAdjust="spacingAndGlyphs">24:00</text>
<text x="731.7" y="548" font-size="12.5" fill="#ffffff" stroke="#ffffff" stroke-width="0.2" textLength="27" lengthAdjust="spacingAndGlyphs">13:53</text>
<text x="1188.5" y="548" font-size="12.5" fill="#ffffff" stroke="#ffffff" stroke-width="0.2" textLength="27" lengthAdjust="spacingAndGlyphs">23:40</text>
</g>
<g shape-rendering="crispEdges">
<rect x="87" y="33" width="10" height="10" fill="#ffffff"/>
<rect x="88" y="34" width="8" height="8" fill="#ff0000"/>
<rect x="182" y="33" width="10" height="10" fill="#ffffff"/>
<rect x="183" y="34" width="8" height="8" fill="#00ffff"/>
<rect x="277" y="33" width="10" height="10" fill="#ffffff"/>
<rect x="278" y="34" width="8" height="8" fill="#000000"/>
<rect x="372" y="33" width="10" height="10" fill="#ffffff"/>
<rect x="373" y="34" width="8" height="8" fill="#ffffff"/>
<rect x="467" y="33" width="10" height="10" fill="#ffffff"/>
<rect x="468" y="34" width="8" height="8" fill="#0000ff"/>
</g>
<text x="101.4" y="42" font-size="12.5" fill="#ff0000" stroke="#ff0000" stroke-width="0.2" textLength="47.6" lengthAdjust="spacingAndGlyphs">Temp. A.*</text>
<text x="196.3" y="42" font-size="12.5" fill="#00ffff" stroke="#00ffff" stroke-width="0.2" textLength="56.4" lengthAdjust="spacingAndGlyphs">Feuchte A.*</text>
<text x="291.2" y="42" font-size="12.5" fill="#000000" stroke="#000000" stroke-width="0.2" textLength="36.7" lengthAdjust="spacingAndGlyphs">Regen*</text>
<text x="385.8" y="42" font-size="12.5" fill="#ffffff" stroke="#ffffff" stroke-width="0.2" textLength="29.9" lengthAdjust="spacingAndGlyphs">Wind*</text>
<text x="481.1" y="42" font-size="12.5" fill="#ffffff" stroke="#ffffff" stroke-width="0.2" textLength="49.7" lengthAdjust="spacingAndGlyphs">Windböen</text>
<g shape-rendering="crispEdges">
<path d="M722 538h3v2h-3zM721 540h5v2h-5zM722 542h3v2h-3zM723 544h1v2h-1z" fill="#ffff00"/>
<path d="M726 540h1v2h-1zM725 542h1v2h-1zM724 544h1v2h-1zM723 546h1v1h-1z" fill="#000000"/>
<path d="M720 540h1v1h-1zM721 542h1v1h-1zM722 544h1v1h-1z" fill="#5a5ae0"/>
<path d="M726 546h4v1h-4zM725 547h6v2h-6z" fill="#ffffff"/>
<path d="M725 545h1v1h-1zM730 545h1v1h-1z" fill="#1a1aa0"/>
<path d="M1177 538h6v6h-6z" fill="#ffffff"/>
<path d="M1177 538h1v1h-1zM1182 538h1v1h-1zM1177 543h1v1h-1z" fill="#1a1aa0"/>
<path d="M1184 541h1v2h-1zM1183 543h3v2h-3zM1182 545h5v2h-5zM1183 547h3v2h-3z" fill="#ffff00"/>
<path d="M1184 540h1v1h-1zM1183 541h1v2h-1zM1182 543h1v2h-1zM1181 545h1v2h-1z" fill="#000000"/>
<path d="M1185 541h1v1h-1zM1186 543h1v1h-1zM1187 545h1v1h-1z" fill="#5a5ae0"/>
</g>
<g shape-rendering="crispEdges">
<rect x="0" y="552" width="1280" height="73" fill="#cefaf6"/>
<rect x="0" y="552" width="1279" height="1" fill="#ffffff"/>
<rect x="0" y="552" width="1" height="73" fill="#ffffff"/>
<rect x="1279" y="552" width="1" height="73" fill="#808080"/>
<rect x="87" y="553" width="1" height="72" fill="#ffffff"/>
<rect x="88" y="553" width="1" height="72" fill="#808080"/>
<rect x="204" y="553" width="1" height="72" fill="#ffffff"/>
<rect x="205" y="553" width="1" height="72" fill="#808080"/>
<rect x="322" y="553" width="1" height="72" fill="#ffffff"/>
<rect x="323" y="553" width="1" height="72" fill="#808080"/>
<rect x="440" y="553" width="1" height="72" fill="#ffffff"/>
<rect x="441" y="553" width="1" height="72" fill="#808080"/>
<rect x="558" y="553" width="1" height="72" fill="#ffffff"/>
<rect x="559" y="553" width="1" height="72" fill="#808080"/>
<rect x="676" y="553" width="1" height="72" fill="#ffffff"/>
<rect x="677" y="553" width="1" height="72" fill="#808080"/>
<rect x="794" y="553" width="1" height="72" fill="#ffffff"/>
<rect x="795" y="553" width="1" height="72" fill="#808080"/>
<rect x="912" y="553" width="1" height="72" fill="#ffffff"/>
<rect x="913" y="553" width="1" height="72" fill="#808080"/>
</g>
<text x="8.3" y="571" font-size="12.5" fill="#000000" font-weight="bold" textLength="39.4" lengthAdjust="spacingAndGlyphs">Sensor</text>
<text x="8.3" y="587" font-size="12.5" fill="#000000" font-weight="bold" textLength="47.2" lengthAdjust="spacingAndGlyphs">MinWert</text>
<text x="8.3" y="603" font-size="12.5" fill="#000000" font-weight="bold" textLength="50.3" lengthAdjust="spacingAndGlyphs">MaxWert</text>
<text x="8.3" y="619" font-size="12.5" fill="#000000" font-weight="bold" textLength="72.2" lengthAdjust="spacingAndGlyphs">Durchschnitt</text>
<text x="94.8" y="571" font-size="12.5" fill="#000000" font-weight="bold" textLength="50.1" lengthAdjust="spacingAndGlyphs">Temp. A.</text>
<text x="185.6" y="571" font-size="12.5" fill="#000000" font-weight="bold" textLength="13" lengthAdjust="spacingAndGlyphs">°C</text>
<text x="100.1" y="587" font-size="12.5" fill="#000000" stroke="#000000" stroke-width="0.2" textLength="27.3" lengthAdjust="spacingAndGlyphs">07:00</text>
<text x="183.7" y="587" font-size="12.5" fill="#000000" stroke="#000000" stroke-width="0.2" textLength="13.8" lengthAdjust="spacingAndGlyphs">7.1</text>
<text x="100.5" y="603" font-size="12.5" fill="#000000" stroke="#000000" stroke-width="0.2" textLength="26.9" lengthAdjust="spacingAndGlyphs">14:40</text>
<text x="177.5" y="603" font-size="12.5" fill="#000000" stroke="#000000" stroke-width="0.2" textLength="21.1" lengthAdjust="spacingAndGlyphs">19.4</text>
<text x="171.5" y="619" font-size="12.5" fill="#000000" stroke="#000000" stroke-width="0.2" textLength="27.1" lengthAdjust="spacingAndGlyphs">12.92</text>
<text x="212.9" y="571" font-size="12.5" fill="#000000" font-weight="bold" textLength="45.6" lengthAdjust="spacingAndGlyphs">Temp. I.</text>
<text x="303.5" y="571" font-size="12.5" fill="#000000" font-weight="bold" textLength="13.2" lengthAdjust="spacingAndGlyphs">°C</text>
<text x="218.4" y="587" font-size="12.5" fill="#000000" stroke="#000000" stroke-width="0.2" textLength="27.1" lengthAdjust="spacingAndGlyphs">03:20</text>
<text x="295.5" y="587" font-size="12.5" fill="#000000" stroke="#000000" stroke-width="0.2" textLength="21.2" lengthAdjust="spacingAndGlyphs">23.8</text>
<text x="218.4" y="603" font-size="12.5" fill="#000000" stroke="#000000" stroke-width="0.2" textLength="27.1" lengthAdjust="spacingAndGlyphs">09:15</text>
<text x="295.5" y="603" font-size="12.5" fill="#000000" stroke="#000000" stroke-width="0.2" textLength="21.2" lengthAdjust="spacingAndGlyphs">26.5</text>
<text x="289.5" y="619" font-size="12.5" fill="#000000" stroke="#000000" stroke-width="0.2" textLength="27.2" lengthAdjust="spacingAndGlyphs">24.79</text>
<text x="684.3" y="571" font-size="12.5" fill="#000000" font-weight="bold" textLength="53.7" lengthAdjust="spacingAndGlyphs">Luftdruck</text>
<text x="766.4" y="571" font-size="12.5" fill="#000000" font-weight="bold" textLength="22.1" lengthAdjust="spacingAndGlyphs">hPa</text>
<text x="690.3" y="587" font-size="12.5" fill="#000000" stroke="#000000" stroke-width="0.2" textLength="27.1" lengthAdjust="spacingAndGlyphs">16:35</text>
<text x="755.5" y="587" font-size="12.5" fill="#000000" stroke="#000000" stroke-width="0.2" textLength="33" lengthAdjust="spacingAndGlyphs">1016.6</text>
<text x="690.3" y="603" font-size="12.5" fill="#000000" stroke="#000000" stroke-width="0.2" textLength="27.1" lengthAdjust="spacingAndGlyphs">00:00</text>
<text x="755.5" y="603" font-size="12.5" fill="#000000" stroke="#000000" stroke-width="0.2" textLength="33" lengthAdjust="spacingAndGlyphs">1019.6</text>
<text x="684.7" y="619" font-size="12.5" fill="#000000" stroke="#000000" stroke-width="0.2" textLength="50.6" lengthAdjust="spacingAndGlyphs">^0.9hPa/h</text>
<text x="755.5" y="619" font-size="12.5" fill="#000000" stroke="#000000" stroke-width="0.2" textLength="33" lengthAdjust="spacingAndGlyphs">1017.9</text>
<text x="802.3" y="571" font-size="12.5" fill="#000000" font-weight="bold" textLength="37.2" lengthAdjust="spacingAndGlyphs">Regen</text>
<text x="883.3" y="571" font-size="12.5" fill="#000000" font-weight="bold" textLength="22.2" lengthAdjust="spacingAndGlyphs">l/m²</text>
<text x="808.3" y="603" font-size="12.5" fill="#000000" stroke="#000000" stroke-width="0.2" textLength="27" lengthAdjust="spacingAndGlyphs">06:40</text>
<text x="891.2" y="603" font-size="12.5" fill="#000000" stroke="#000000" stroke-width="0.2" textLength="15.5" lengthAdjust="spacingAndGlyphs">0.2</text>
<text x="802.3" y="619" font-size="12.5" fill="#000000" stroke="#000000" stroke-width="0.2" textLength="38.2" lengthAdjust="spacingAndGlyphs">Gesamt:</text>
<text x="891.2" y="619" font-size="12.5" fill="#000000" stroke="#000000" stroke-width="0.2" textLength="15.5" lengthAdjust="spacingAndGlyphs">0.6</text>
<text x="920.5" y="571" font-size="12.5" fill="#000000" font-weight="bold" textLength="29" lengthAdjust="spacingAndGlyphs">Wind</text>
<text x="992.3" y="571" font-size="12.5" fill="#000000" font-weight="bold" textLength="29.2" lengthAdjust="spacingAndGlyphs">km/h</text>
<text x="920.5" y="587" font-size="12.5" fill="#000000" stroke="#000000" stroke-width="0.2" textLength="21.5" lengthAdjust="spacingAndGlyphs">Ø 10</text>
<text x="945.5" y="587" font-size="10.5" fill="#000000" stroke="#000000" stroke-width="0.2" textLength="19" lengthAdjust="spacingAndGlyphs">min.</text>
<text x="1007.2" y="587" font-size="12.5" fill="#000000" stroke="#000000" stroke-width="0.2" textLength="15.3" lengthAdjust="spacingAndGlyphs">4.5</text>
<text x="926.4" y="603" font-size="12.5" fill="#000000" stroke="#000000" stroke-width="0.2" textLength="27.1" lengthAdjust="spacingAndGlyphs">00:00</text>
<text x="990.5" y="603" font-size="12.5" fill="#000000" stroke="#000000" stroke-width="0.2" textLength="32" lengthAdjust="spacingAndGlyphs">N 10.0</text>
<text x="1007.2" y="619" font-size="12.5" fill="#000000" stroke="#000000" stroke-width="0.2" textLength="15.3" lengthAdjust="spacingAndGlyphs">2.6</text>
</svg></body></html>
